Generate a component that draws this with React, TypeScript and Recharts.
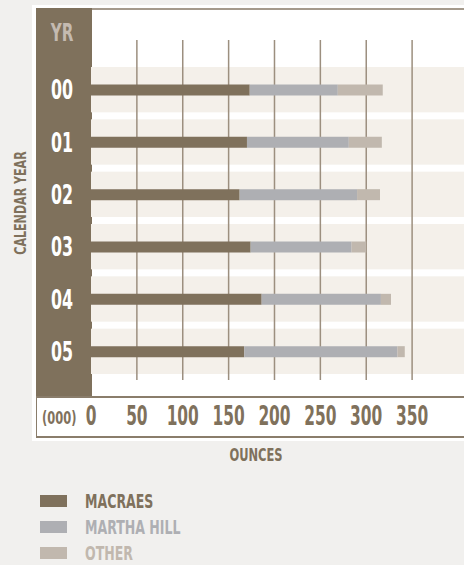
import React from "react"
import {
  Bar,
  BarChart,
  CartesianGrid,
  ReferenceArea,
  XAxis,
  YAxis,
} from "recharts"

const years = ["00", "01", "02", "03", "04", "05"]
const macraes = [173, 170, 162, 174, 186, 167]
const marthaHill = [96, 111, 128, 110, 130, 167]
const other = [49, 36, 25, 16, 11, 8]
const xTicks = [0, 50, 100, 150, 200, 250, 300, 350]

const series = [
  { key: "macraes", name: "MACRAES", color: "#7f715c" },
  { key: "marthaHill", name: "MARTHA HILL", color: "#aeafb3" },
  { key: "other", name: "OTHER", color: "#c1b8ae" },
]

const data = years.map((year, i) => ({
  year,
  macraes: macraes[i],
  marthaHill: marthaHill[i],
  other: other[i],
}))

const FONT = '"Liberation Sans Narrow", "DejaVu Sans Condensed", "Roboto", sans-serif'
const BROWN = "#7f715c"

// squeeze text around its anchor point to get the condensed look
const squeeze = (x: number, y: number, sx: number, sy: number) =>
  `translate(${x} ${y}) scale(${sx} ${sy}) translate(${-x} ${-y})`

const YearTick = ({ y, payload }: any) => (
  <text
    x={62}
    y={y}
    textAnchor="middle"
    dominantBaseline="central"
    fill="#ffffff"
    fontFamily={FONT}
    fontWeight="bold"
    fontSize={22}
    transform={squeeze(62, y - 1, 0.8, 1.2)}
  >
    {payload.value}
  </text>
)

const OunceTick = ({ x, y, payload }: any) => (
  <text
    x={x}
    y={y + 28}
    textAnchor="middle"
    dominantBaseline="central"
    fill={BROWN}
    fontFamily={FONT}
    fontWeight="bold"
    fontSize={22}
    transform={squeeze(x, y + 28, 0.78, 1.2)}
  >
    {payload.value}
  </text>
)

const Band = (props: any) => (
  <rect
    x={props.x}
    y={props.y + 3.5}
    width={props.width}
    height={props.height - 7}
    fill="#f4f0ea"
  />
)

export default function App() {
  return (
    <div
      style={{
        position: "absolute",
        left: 0,
        top: 0,
        width: 464,
        height: 565,
        overflow: "hidden",
        background: "#f1f0ee",
        fontFamily: FONT,
        fontWeight: "bold",
      }}
    >
      {/* white panel */}
      <div style={{ position: "absolute", left: 32, top: 5, width: 440, height: 436, background: "#ffffff" }} />
      {/* dark year column */}
      <div style={{ position: "absolute", left: 36, top: 8, width: 56, height: 389, background: BROWN }} />
      {/* top rule */}
      <div style={{ position: "absolute", left: 92, top: 8, width: 380, height: 2, background: "#a59a8c" }} />
      {/* axis box */}
      <div
        style={{
          position: "absolute",
          left: 36,
          top: 396,
          width: 440,
          height: 38,
          borderTop: `2px solid #8a7d6b`,
          borderBottom: `2px solid #8a7d6b`,
          borderLeft: `1px solid #8a7d6b`,
        }}
      />
      <div
        style={{
          position: "absolute",
          left: 62,
          top: 21,
          width: 0,
          display: "flex",
          justifyContent: "center",
          color: "#c4bab0",
          fontSize: 21,
          lineHeight: "24px",
          transform: "scale(0.8, 1.2)",
        }}
      >
        YR
      </div>

      <div style={{ position: "absolute", left: 0, top: 0 }}>
        <BarChart
          width={480}
          height={565}
          data={data}
          layout="vertical"
          margin={{ top: 40, right: 0, bottom: 125, left: 0 }}
        >
          {years.map((year) => (
            <ReferenceArea
              key={year}
              y1={year}
              y2={year}
              shape={Band}
              zIndex={-200}
              ifOverflow="visible"
            />
          ))}
          <CartesianGrid
            horizontal={false}
            stroke="#9c8f7f"
            strokeWidth={1.5}
            verticalValues={xTicks.slice(1)}
          />
          <XAxis
            type="number"
            domain={[0, 424]}
            ticks={xTicks}
            interval={0}
            axisLine={false}
            tickLine={false}
            tick={OunceTick}
            height={60}
          />
          <YAxis
            type="category"
            dataKey="year"
            width={91}
            axisLine={false}
            tickLine={false}
            tick={YearTick}
            padding={{ top: 23.5, bottom: 2.5 }}
          />
          {series.map((s) => (
            <Bar
              key={s.key}
              dataKey={s.key}
              name={s.name}
              stackId="a"
              fill={s.color}
              barSize={11}
              isAnimationActive={false}
            />
          ))}
        </BarChart>
      </div>

      <div
        style={{
          position: "absolute",
          left: 42,
          top: 409,
          color: BROWN,
          fontSize: 15,
          transformOrigin: "left center",
          transform: "scale(0.85, 1.15)",
        }}
      >
        (000)
      </div>
      <div
        style={{
          position: "absolute",
          left: 256,
          top: 446,
          width: 0,
          display: "flex",
          justifyContent: "center",
          color: BROWN,
          fontSize: 15,
          transform: "scale(0.85, 1.15)",
        }}
      >
        OUNCES
      </div>
      <div
        style={{
          position: "absolute",
          left: 20,
          top: 203,
          width: 0,
          height: 0,
          display: "flex",
          alignItems: "center",
          justifyContent: "center",
          whiteSpace: "nowrap",
          color: BROWN,
          fontSize: 15,
          transform: "rotate(-90deg) scale(0.82, 1.1)",
        }}
      >
        CALENDAR YEAR
      </div>

      <div style={{ position: "absolute", left: 40, top: 488 }}>
        {series.map((s) => (
          <div key={s.key} style={{ display: "flex", alignItems: "center", height: 26 }}>
            <div style={{ width: 27, height: 12, background: s.color }} />
            <div
              style={{
                marginLeft: 18,
                color: s.color,
                fontSize: 17,
                lineHeight: "20px",
                transformOrigin: "left center",
                transform: "scale(0.82, 1.15)",
                whiteSpace: "nowrap",
              }}
            >
              {s.name}
            </div>
          </div>
        ))}
      </div>
    </div>
  )
}
